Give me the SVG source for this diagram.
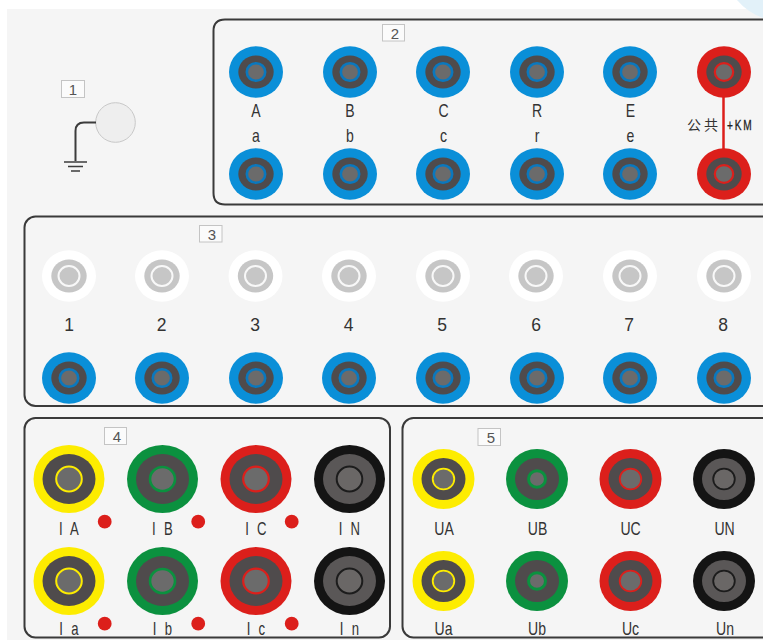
<svg xmlns="http://www.w3.org/2000/svg" width="763" height="640" viewBox="0 0 763 640">
<style>
.panel{fill:#f5f5f5;stroke:#3a3a3a;stroke-width:2}
.tag{fill:#fbfbfb;stroke:#c4c4c4;stroke-width:1}
.tagt{font-family:"Liberation Sans",Arial,sans-serif;font-size:15px;fill:#555;text-anchor:middle}
.lab{font-family:"Liberation Sans",Arial,sans-serif;font-size:18px;fill:#333;text-anchor:middle}
.sp{font-size:17.500px;letter-spacing:3px}
.num{font-family:"Liberation Sans",Arial,sans-serif;font-size:17.500px;fill:#333;text-anchor:middle}
.dot{fill:#dc1f1b}
.dark{fill:#4f4b4c}
.core{fill:#6b6b6b}
</style>
<defs>
<g id="tb"><ellipse rx="27" ry="25.7" fill="#0a8fd8"/><ellipse class="dark" rx="17.700" ry="16.500"/><ellipse class="core" rx="9.200" ry="8.800" stroke="#0a78be" stroke-width="2.600"/></g>
<g id="tr"><ellipse rx="27" ry="25.7" fill="#dc1f1b"/><ellipse class="dark" rx="17.700" ry="16.500"/><ellipse class="core" rx="9.200" ry="8.800" stroke="#dc1f1b" stroke-width="2.200"/></g>
<g id="tw"><ellipse rx="27" ry="25.7" fill="#fff"/><ellipse rx="17.700" ry="16.500" fill="#c6c6c6"/><ellipse rx="10.500" ry="10" fill="#c6c6c6" stroke="#f8f8f8" stroke-width="2"/></g>
<g id="ly"><ellipse rx="35.500" ry="34" fill="#fdec00"/><ellipse class="dark" rx="26.500" ry="25"/><ellipse class="core" rx="12.800" ry="12.400" stroke="#fdec00" stroke-width="2"/></g>
<g id="lg"><ellipse rx="35.500" ry="34" fill="#0b913f"/><ellipse class="dark" rx="26.500" ry="25"/><ellipse class="core" rx="12.500" ry="12" stroke="#0b913f" stroke-width="2.600"/></g>
<g id="lr"><ellipse rx="35.500" ry="34" fill="#dc1f1b"/><ellipse class="dark" rx="26.500" ry="25"/><ellipse class="core" rx="12.800" ry="12.400" stroke="#dc1f1b" stroke-width="2.200"/></g>
<g id="lk"><ellipse rx="35.500" ry="34" fill="#141414"/><ellipse fill="#5a5757" rx="26.500" ry="25"/><ellipse fill="#6a6766" rx="12.800" ry="12.400" stroke="#1c1c1c" stroke-width="2"/></g>
<g id="my"><ellipse rx="31" ry="30" fill="#fdec00"/><ellipse class="dark" rx="22" ry="21"/><ellipse class="core" rx="10.800" ry="10.400" stroke="#fdec00" stroke-width="1.800"/></g>
<g id="mg"><ellipse rx="31" ry="30" fill="#0b913f"/><ellipse class="dark" rx="22" ry="21"/><ellipse class="core" rx="8.500" ry="8.200" stroke="#0b913f" stroke-width="3"/></g>
<g id="mr"><ellipse rx="31" ry="30" fill="#dc1f1b"/><ellipse class="dark" rx="22" ry="21"/><ellipse class="core" rx="10.800" ry="10.400" stroke="#dc1f1b" stroke-width="1.800"/></g>
<g id="mk"><ellipse rx="31" ry="30" fill="#141414"/><ellipse fill="#5a5757" rx="22" ry="21"/><ellipse fill="#6a6766" rx="10.800" ry="10.400" stroke="#1c1c1c" stroke-width="1.800"/></g>
</defs>
<rect width="763" height="640" fill="#fff"/>
<rect x="7" y="9" width="756" height="631" fill="#f5f5f5"/>
<path d="M737 0H763V18Q747 12 737 0Z" fill="#e2f1f9"/>

<g id="node-1">
<rect class="tag" x="61.500" y="80.500" width="23" height="17"/>
<text class="tagt" x="73" y="94.500">1</text>
<circle cx="115.500" cy="122.500" r="19.800" fill="#eeeeee" stroke="#c8c8c8"/>
<path d="M96 122.500H84Q75.500 122.500 75.500 131V161" fill="none" stroke="#3c3c3c" stroke-width="2"/>
<path d="M64 162H87M68 166.500H83M71 171H80" fill="none" stroke="#3c3c3c" stroke-width="1.600"/>
</g>

<g id="node-2">
<path class="panel" d="M764 19.500H225Q213.500 19.500 213.500 31V193Q213.500 204.500 225 204.500H764"/>
<rect class="tag" x="382.500" y="24.500" width="22" height="16.500"/>
<text class="tagt" x="395" y="38.500">2</text>
<use href="#tb" x="256" y="72"/><use href="#tb" x="350" y="72"/><use href="#tb" x="443" y="72"/><use href="#tb" x="537" y="72"/><use href="#tb" x="630" y="72"/><use href="#tr" x="724" y="72"/>
<use href="#tb" x="256" y="174"/><use href="#tb" x="350" y="174"/><use href="#tb" x="443" y="174"/><use href="#tb" x="537" y="174"/><use href="#tb" x="630" y="174"/><use href="#tr" x="724" y="174"/>
<text class="lab" transform="translate(256 116.500) scale(.78 1)">A</text><text class="lab" transform="translate(350 116.500) scale(.78 1)">B</text><text class="lab" transform="translate(443.500 116.500) scale(.78 1)">C</text><text class="lab" transform="translate(537 116.500) scale(.78 1)">R</text><text class="lab" transform="translate(630.500 116.500) scale(.78 1)">E</text>
<text class="lab" transform="translate(256 141.500) scale(.78 1)">a</text><text class="lab" transform="translate(350 141.500) scale(.78 1)">b</text><text class="lab" transform="translate(443.500 141.500) scale(.78 1)">c</text><text class="lab" transform="translate(537 141.500) scale(.78 1)">r</text><text class="lab" transform="translate(630.500 141.500) scale(.78 1)">e</text>
<text x="687" y="130" font-family="'Noto Sans CJK SC',sans-serif" font-size="14" fill="#333" letter-spacing="3">公共</text>
<text transform="translate(727 130) scale(.72 1)" font-family="'Liberation Sans',sans-serif" font-size="14" fill="#222" stroke="#222" stroke-width=".3" letter-spacing="2.500">+KM</text>
</g>

<g id="connectors">
<line x1="723.500" y1="96" x2="723.500" y2="150" stroke="#dc1f1b" stroke-width="2.500"/>
</g>

<g id="node-3">
<rect class="panel" x="24.500" y="216.500" width="750" height="189.500" rx="11"/>
<rect class="tag" x="199.500" y="225.500" width="22.500" height="16.500"/>
<text class="tagt" x="212" y="239.500">3</text>
<use href="#tw" x="69" y="276"/><use href="#tw" x="162" y="276"/><use href="#tw" x="255.500" y="276"/><use href="#tw" x="349" y="276"/><use href="#tw" x="443" y="276"/><use href="#tw" x="536" y="276"/><use href="#tw" x="630" y="276"/><use href="#tw" x="724" y="276"/>
<text class="num" x="69" y="330.500">1</text><text class="num" x="161.500" y="330.500">2</text><text class="num" x="255" y="330.500">3</text><text class="num" x="348.500" y="330.500">4</text><text class="num" x="442" y="330.500">5</text><text class="num" x="536" y="330.500">6</text><text class="num" x="629" y="330.500">7</text><text class="num" x="723" y="330.500">8</text>
<use href="#tb" x="69" y="378"/><use href="#tb" x="162" y="378"/><use href="#tb" x="256" y="378"/><use href="#tb" x="349" y="378"/><use href="#tb" x="443" y="378"/><use href="#tb" x="537" y="378"/><use href="#tb" x="630" y="378"/><use href="#tb" x="724" y="378"/>
</g>

<g id="node-4">
<rect class="panel" x="24.500" y="418" width="365.500" height="219.500" rx="11"/>
<rect class="tag" x="104.500" y="427.500" width="22" height="17"/>
<text class="tagt" x="117" y="441.500">4</text>
<use href="#ly" x="69" y="479"/><use href="#lg" x="162.500" y="479"/><use href="#lr" x="256" y="479"/><use href="#lk" x="349.500" y="479"/>
<use href="#ly" x="69" y="581"/><use href="#lg" x="162.500" y="581"/><use href="#lr" x="256" y="581"/><use href="#lk" x="349.500" y="581"/>
<circle class="dot" cx="104.700" cy="521.700" r="6.900"/><circle class="dot" cx="198.200" cy="521.700" r="6.900"/><circle class="dot" cx="291.700" cy="521.700" r="6.900"/>
<circle class="dot" cx="104.700" cy="623.700" r="6.900"/><circle class="dot" cx="198.200" cy="623.700" r="6.900"/><circle class="dot" cx="291.700" cy="623.700" r="6.900"/>
<text class="lab sp" transform="translate(70 534.500) scale(.75 1)">I A</text><text class="lab sp" transform="translate(163.500 534.500) scale(.75 1)">I B</text><text class="lab sp" transform="translate(257 534.500) scale(.75 1)">I C</text><text class="lab sp" transform="translate(350.500 534.500) scale(.75 1)">I N</text>
<text class="lab sp" transform="translate(70 634.500) scale(.75 1)">I a</text><text class="lab sp" transform="translate(163.500 634.500) scale(.75 1)">I b</text><text class="lab sp" transform="translate(257 634.500) scale(.75 1)">I c</text><text class="lab sp" transform="translate(350.500 634.500) scale(.75 1)">I n</text>
</g>

<g id="node-5">
<rect class="panel" x="402.500" y="418" width="372" height="219.500" rx="11"/>
<rect class="tag" x="478" y="428.500" width="22.500" height="17"/>
<text class="tagt" x="491" y="442.500">5</text>
<use href="#my" x="443.500" y="479"/><use href="#mg" x="537" y="479"/><use href="#mr" x="630.500" y="479"/><use href="#mk" x="724" y="479"/>
<use href="#my" x="443.500" y="581"/><use href="#mg" x="537" y="581"/><use href="#mr" x="630.500" y="581"/><use href="#mk" x="724" y="581"/>
<text class="lab" transform="translate(444 534.500) scale(.78 1)">UA</text><text class="lab" transform="translate(537.500 534.500) scale(.78 1)">UB</text><text class="lab" transform="translate(630.500 534.500) scale(.78 1)">UC</text><text class="lab" transform="translate(724.500 534.500) scale(.78 1)">UN</text>
<text class="lab" transform="translate(443.500 634.500) scale(.78 1)">Ua</text><text class="lab" transform="translate(537 634.500) scale(.78 1)">Ub</text><text class="lab" transform="translate(630.500 634.500) scale(.78 1)">Uc</text><text class="lab" transform="translate(725 634.500) scale(.78 1)">Un</text>
</g>
</svg>
